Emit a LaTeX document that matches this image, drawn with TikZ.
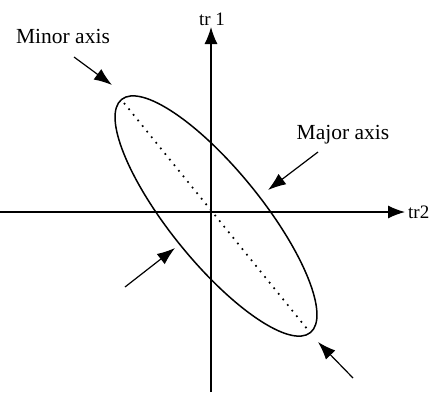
\documentclass[tikz,border=0pt]{standalone}
\usepackage{fontspec}
\setmainfont{Liberation Serif}
\usetikzlibrary{arrows.meta}

\begin{document}
\begin{tikzpicture}[x=1pt, y=1pt,
    axisline/.style={line width=1.2pt, -{Latex[length=17pt, width=13pt]}},
    pointer/.style={line width=1.2pt, -{Latex[length=18pt, width=13pt]}},
    lbl/.style={font=\fontsize{21.5}{26}\selectfont, inner sep=0pt}]
  \useasboundingbox (0,0) rectangle (443,392);

  % Axes
  \coordinate (x_start) at (0,180);
  \coordinate (x_end) at (405,180);
  \coordinate (y_start) at (211,0);
  \coordinate (y_end) at (211,365);
  \draw[axisline] (x_start) -- (x_end);
  \draw[axisline] (y_start) -- (y_end);
  \node[lbl, font=\fontsize{19}{23}\selectfont, right=3pt] (tr2) at (x_end) {tr2};
  \node[lbl, font=\fontsize{19}{23}\selectfont] (tr1) at (212,373) {tr 1};

  % Ellipse and its major axis
  \draw[line width=1.5pt] (216,176) ellipse [x radius=150pt, y radius=46pt, rotate=-51];
  \coordinate (maj_a) at (124,289);
  \coordinate (maj_b) at (308,62);
  \draw[line width=1.7pt, dash pattern=on 1.7pt off 5.5pt] (maj_a) -- (maj_b);

  % Labels
  \node[lbl] (minor_lbl) at (63,356) {Minor axis};
  \node[lbl] (major_lbl) at (343,257) {Major axis};

  % Pointers
  \coordinate (p1_from) at (74,335);
  \coordinate (p1_to) at (112,307);
  \coordinate (p2_from) at (318,240);
  \coordinate (p2_to) at (268,202);
  \coordinate (p3_from) at (125,105);
  \coordinate (p3_to) at (175,144);
  \coordinate (p4_from) at (353,14);
  \coordinate (p4_to) at (318,50);
  \draw[pointer] (p1_from) -- (p1_to);
  \draw[pointer] (p2_from) -- (p2_to);
  \draw[pointer] (p3_from) -- (p3_to);
  \draw[pointer] (p4_from) -- (p4_to);
\end{tikzpicture}
\end{document}
